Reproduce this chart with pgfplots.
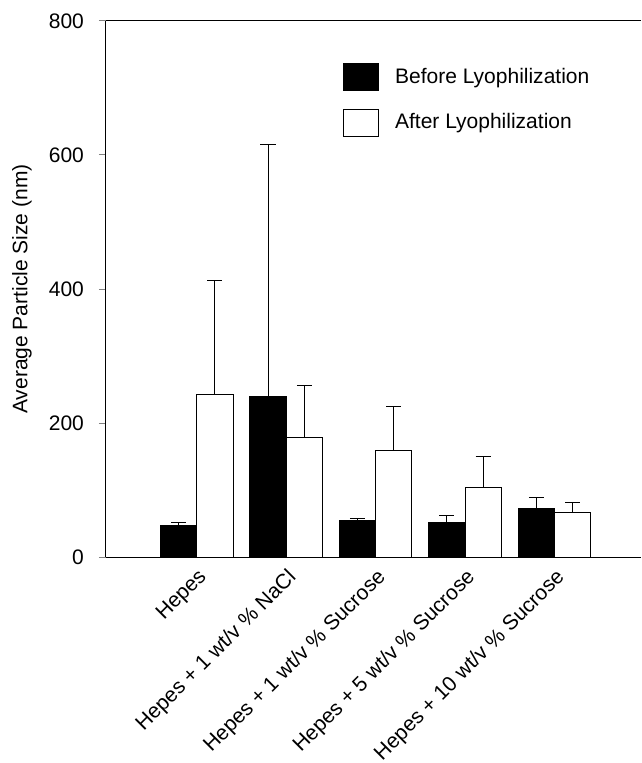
\documentclass[border=0pt]{standalone}
\usepackage{fontspec}
\setmainfont{Liberation Sans}
\usepackage{pgfplots}
\pgfplotsset{compat=1.18}

% 1 px of the reference = 0.5pt here
\newcommand{\lbl}{\fontsize{10.5}{12.6}\selectfont}

\begin{document}
\begin{tikzpicture}
\begin{axis}[
    scale only axis,
    width=267.5pt, height=268pt,
    xmin=-1.015, xmax=4.97,
    ymin=0, ymax=800,
    ytick={0,200,400,600,800},
    xtick={0,1,2,3,4},
    xticklabels={Hepes, Hepes + 1 wt/v \% NaCl, Hepes + 1 wt/v \% Sucrose,
                 Hepes + 5 wt/v \% Sucrose, Hepes + 10 wt/v \% Sucrose},
    axis lines=left,
    axis line style={-, line width=0.5pt},
    tick align=outside,
    major tick length=3.5pt,
    xtick style={draw=none},
    ytick style={line width=0.5pt},
    /pgf/number format/assume math mode=true,
    tick label style={font=\lbl},
    yticklabel style={xshift=-4pt},
    xticklabel style={rotate=45, anchor=north east, inner sep=1pt},
    ylabel={Average Particle Size (nm)},
    every axis y label/.style={at={(rel axis cs:0,0.5)}, xshift=-42pt, rotate=90,
                               anchor=center, font=\lbl},
    ybar, bar width=0.406,
    legend style={at={(0.443,0.922)}, anchor=north west, draw=none, fill=none,
                  font=\lbl, row sep=9pt, inner sep=0pt,
                  /tikz/every odd column/.append style={column sep=6pt}},
    legend cell align=left,
    legend image code/.code={\draw[#1, line width=0.5pt] (0pt,-6.67pt) rectangle (17.3pt,6.67pt);},
    after end axis/.code={
        \draw[line width=0.5pt] (rel axis cs:0,1) -- (rel axis cs:1,1);
        \coordinate (bbl) at (rel axis cs:-0.198,-0.384);
        \coordinate (btr) at (rel axis cs:1,1.039);
    },
]

% Before lyophilization
\addplot[fill=black, draw=black, line width=0.5pt, bar shift=-0.203,
    error bars/.cd, y dir=plus, y explicit,
    error bar style={black, line width=0.5pt},
    error mark options={rotate=90, mark size=3.75pt, line width=0.5pt}
] coordinates {
    (0,47.7)  +- (0,3.3)
    (1,239.8) +- (0,376.2)
    (2,54.0)  +- (0,3.7)
    (3,52.0)  +- (0,10.7)
    (4,72.0)  +- (0,17.5)
};
\addlegendentry{Before Lyophilization}

% After lyophilization
\addplot[fill=white, draw=black, line width=0.5pt, bar shift=0.203,
    error bars/.cd, y dir=plus, y explicit,
    error bar style={black, line width=0.5pt},
    error mark options={rotate=90, mark size=3.75pt, line width=0.5pt}
] coordinates {
    (0,242.8) +- (0,170.2)
    (1,178.6) +- (0,78.1)
    (2,159.7) +- (0,64.3)
    (3,103.4) +- (0,46.6)
    (4,67.0)  +- (0,15.0)
};
\addlegendentry{After Lyophilization}

\end{axis}
\pgfresetboundingbox
\path[use as bounding box] (bbl) rectangle (btr);
\end{tikzpicture}
\end{document}
